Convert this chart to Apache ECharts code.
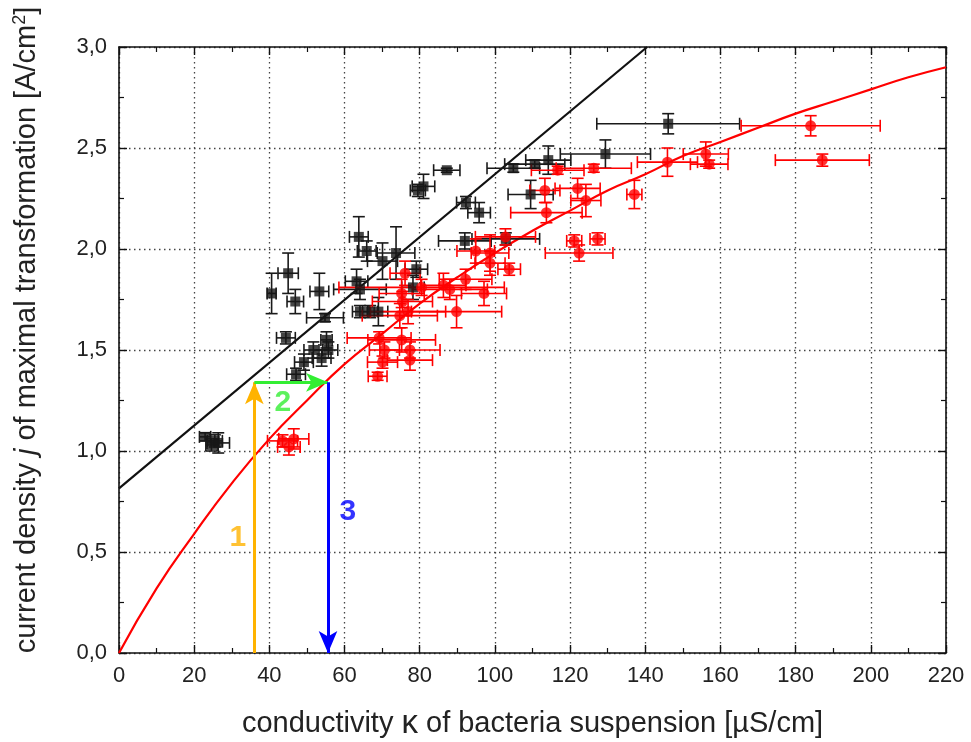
<!DOCTYPE html>
<html>
<head>
<meta charset="utf-8">
<script src="https://cdn.jsdelivr.net/npm/echarts@6/dist/echarts.min.js"></script>
<style>
  html, body { margin: 0; padding: 0; background: #fff; }
  #chart { width: 971px; height: 742px; }
</style>
</head>
<body>
<div id="chart"></div>
<script>
// Reference samples (black squares) with symmetric errors
const blackX    = [22.9, 24.6, 25.5, 26.4, 40.6, 44.4, 45.0, 46.9, 47.1, 49.2, 51.7, 53.3, 53.9, 54.8, 55.2, 55.7,
                   63.2, 63.8, 64.1, 64.1, 65.9, 66.8, 69.0, 70.1, 73.7, 78.2, 79.1, 79.5, 81.0, 87.2, 92.0, 92.3,
                   95.8, 102.9, 104.9, 109.5, 110.6, 114.2, 129.4, 146.1];
const blackY    = [1.07, 1.03, 1.05, 1.04, 1.78, 1.56, 1.88, 1.74, 1.38, 1.44, 1.50, 1.79, 1.46, 1.66, 1.55, 1.50,
                   1.84, 2.06, 1.80, 1.69, 1.99, 1.69, 1.69, 1.94, 1.98, 1.81, 1.90, 2.29, 2.31, 2.39, 2.04, 2.23,
                   2.18, 2.05, 2.40, 2.27, 2.42, 2.44, 2.47, 2.62];
const blackXErr = [1.5, 1.5, 2.0, 3.0, 1.2, 2.5, 2.7, 2.2, 2.5, 2.5, 2.5, 2.5, 2.5, 4.9, 1.5, 2.5,
                   3.0, 2.5, 7.0, 2.0, 2.5, 2.0, 2.5, 4.0, 5.0, 3.0, 3.0, 2.0, 3.0, 3.5, 7.0, 2.5,
                   3.0, 9.0, 7.0, 6.0, 8.0, 6.0, 12.0, 19.0];
const blackYErr = [0.02, 0.03, 0.03, 0.05, 0.10, 0.03, 0.10, 0.06, 0.03, 0.04, 0.04, 0.09, 0.04, 0.02, 0.04, 0.04,
                   0.06, 0.10, 0.05, 0.03, 0.05, 0.03, 0.07, 0.09, 0.13, 0.06, 0.04, 0.03, 0.06, 0.01, 0.04, 0.03,
                   0.05, 0.03, 0.02, 0.07, 0.02, 0.07, 0.07, 0.05];

// Measured samples (red circles) with symmetric errors
const redX    = [43.5, 45.2, 46.5, 68.8, 70.1, 69.2, 70.6, 75.2, 77.4, 77.4, 74.7, 76.9, 75.4, 75.2, 76.1, 80.5,
                 86.3, 88.0, 89.8, 92.2, 94.9, 97.1, 98.7, 98.7, 102.8, 103.8, 113.3, 113.7, 116.7, 121.1, 122.0,
                 122.4, 124.2, 126.3, 127.3, 137.1, 145.9, 156.1, 157.0, 184.0, 187.1];
const redY    = [1.05, 1.02, 1.06, 1.37, 1.44, 1.56, 1.50, 1.55, 1.50, 1.45, 1.67, 1.69, 1.74, 1.78, 1.88, 1.81,
                 1.82, 1.80, 1.69, 1.85, 1.99, 1.78, 1.98, 1.93, 2.06, 1.90, 2.29, 2.18, 2.39, 2.04, 2.30,
                 1.98, 2.24, 2.40, 2.05, 2.27, 2.43, 2.47, 2.42, 2.61, 2.44];
const redXErr = [4.0, 3.0, 4.0, 2.5, 4.0, 8.5, 4.0, 9.0, 8.0, 6.0, 10.0, 10.0, 8.0, 6.0, 4.0, 22.0,
                 6.0, 10.0, 12.0, 7.0, 5.0, 6.0, 5.0, 4.0, 8.0, 3.0, 4.0, 9.5, 7.0, 2.0, 6.0,
                 9.0, 4.0, 10.0, 2.0, 2.0, 8.0, 6.0, 5.0, 18.5, 12.5];
const redYErr = [0.03, 0.04, 0.05, 0.02, 0.03, 0.03, 0.04, 0.06, 0.04, 0.05, 0.06, 0.06, 0.05, 0.07, 0.06, 0.04,
                 0.06, 0.05, 0.08, 0.05, 0.06, 0.06, 0.09, 0.06, 0.04, 0.03, 0.06, 0.05, 0.02, 0.03, 0.05,
                 0.04, 0.08, 0.02, 0.03, 0.07, 0.07, 0.06, 0.02, 0.05, 0.03];

// Saturating fit curve through the measured data
const fitX = [0, 10, 20, 30, 40, 50, 60, 70, 80, 90, 100, 110, 120, 130, 140, 150, 160, 170, 180, 190, 200, 210, 220];
const fitY = [0, 0.32, 0.59, 0.84, 1.06, 1.25, 1.43, 1.58, 1.73, 1.86, 1.98, 2.09, 2.19, 2.29, 2.37, 2.46, 2.53,
              2.60, 2.67, 2.73, 2.79, 2.85, 2.90];

// Straight line through the reference samples
const refLineX = [0, 140.5];
const refLineY = [0.815, 3.0];

// Construction arrows: 1 up, 2 across, 3 down
const kappaStart = 36;
const kappaEnd = 55.6;
const jLevel = 1.34;

const xTicks = { min: 0, max: 220, interval: 20 };
const yTicks = { min: 0, max: 3, interval: 0.5 };

const chart = echarts.init(document.getElementById('chart'), null, { renderer: 'canvas' });

function pairs(xs, ys) { return xs.map((x, i) => [x, ys[i]]); }
function withErr(xs, ys, ex, ey) { return xs.map((x, i) => [x, ys[i], ex[i], ey[i]]); }

function errorBars(color) {
  return function (params, api) {
    const x = api.value(0), y = api.value(1), ex = api.value(2), ey = api.value(3);
    const l = api.coord([x - ex, y]), r = api.coord([x + ex, y]);
    const t = api.coord([x, y + ey]), b = api.coord([x, y - ey]);
    const cap = 6;
    const style = { stroke: color, lineWidth: 1.6, fill: null };
    const line = (x1, y1, x2, y2) => ({ type: 'line', shape: { x1, y1, x2, y2 }, style });
    return {
      type: 'group',
      children: [
        line(l[0], l[1], r[0], r[1]),
        line(l[0], l[1] - cap, l[0], l[1] + cap),
        line(r[0], r[1] - cap, r[0], r[1] + cap),
        line(t[0], t[1], b[0], b[1]),
        line(t[0] - cap, t[1], t[0] + cap, t[1]),
        line(b[0] - cap, b[1], b[0] + cap, b[1])
      ]
    };
  };
}

const tickFont = "'Liberation Sans', Arial, sans-serif";
const titleFont = "'Liberation Sans', Arial, sans-serif";

const baseAxis = {
  axisLine: { show: true, onZero: false, lineStyle: { color: '#111', width: 1.6 } },
  axisTick: { show: true, inside: true, length: 8, lineStyle: { color: '#111', width: 1.4 } },
  minorTick: { show: true, splitNumber: 2, length: 5, lineStyle: { color: '#111', width: 1.2 } },
  splitLine: { show: false },
  minorSplitLine: { show: false }
};

function arrow(from, to, color) {
  return {
    type: 'line', data: [], silent: true, z: 6,
    markLine: {
      silent: true, animation: false,
      symbol: ['none', 'arrow'], symbolSize: [14, 22],
      label: { show: false },
      lineStyle: { color, width: 3, type: 'solid' },
      data: [[{ coord: from }, { coord: to }]]
    }
  };
}

function numberLabel(x, y, text, color) {
  return {
    type: 'scatter', data: [[x, y]], symbolSize: 0, silent: true, z: 7,
    label: {
      show: true, position: 'inside', formatter: text, color,
      fontFamily: titleFont, fontWeight: 'bold', fontSize: 30
    }
  };
}

chart.setOption({
  animation: false,
  backgroundColor: '#fff',
  grid: { left: 119, right: 25, top: 47, bottom: 89, outerBoundsMode: 'none', containLabel: false },
  xAxis: [
    Object.assign({}, baseAxis, {
      type: 'value', position: 'bottom', ...xTicks,
      name: '{t|conductivity }{k|κ}{t| of bacteria suspension [µS/cm]}',
      nameLocation: 'middle', nameGap: 54,
      nameTextStyle: {
        rich: {
          t: { fontFamily: titleFont, fontSize: 29, color: '#222' },
          k: { fontFamily: titleFont, fontSize: 33, color: '#222' }
        }
      },
      axisLabel: { show: true, margin: 12, fontFamily: tickFont, fontSize: 22, color: '#222' },
      splitLine: { show: true, lineStyle: { color: '#444', width: 1.3, type: [1.5, 3.5] } }
    }),
    Object.assign({}, baseAxis, {
      type: 'value', position: 'top', ...xTicks,
      axisLabel: { show: false }
    })
  ],
  yAxis: [
    Object.assign({}, baseAxis, {
      type: 'value', position: 'left', ...yTicks,
      name: '{t|current density }{i|j}{t| of maximal transformation [A/cm}{s|2}{t|]}',
      nameLocation: 'middle', nameGap: 76, nameRotate: 90,
      nameTextStyle: {
        padding: [0, 0, 0, 40],
        rich: {
          t: { fontFamily: titleFont, fontSize: 29, color: '#222' },
          i: { fontFamily: titleFont, fontSize: 29, fontStyle: 'italic', color: '#222' },
          s: { fontFamily: titleFont, fontSize: 18, color: '#222', verticalAlign: 'top', padding: [0, 0, 14, 0] }
        }
      },
      axisLabel: {
        show: true, margin: 12, fontFamily: tickFont, fontSize: 22, color: '#222',
        formatter: v => v.toFixed(1).replace('.', ',')
      },
      splitLine: { show: true, lineStyle: { color: '#444', width: 1.3, type: [1.5, 3.5] } }
    }),
    Object.assign({}, baseAxis, {
      type: 'value', position: 'right', ...yTicks,
      axisLabel: { show: false }
    })
  ],
  series: [
    {
      type: 'line', name: 'reference line', data: pairs(refLineX, refLineY),
      showSymbol: false, clip: true, z: 3,
      lineStyle: { color: '#111', width: 2.2 }
    },
    {
      type: 'line', name: 'fit', data: pairs(fitX, fitY), smooth: true,
      showSymbol: false, clip: true, z: 3,
      lineStyle: { color: '#ff0000', width: 2.2 }
    },
    {
      type: 'custom', name: 'black errors', data: withErr(blackX, blackY, blackXErr, blackYErr),
      renderItem: errorBars('#1a1a1a'), z: 4, clip: true
    },
    {
      type: 'scatter', name: 'black', data: pairs(blackX, blackY),
      symbol: 'rect', symbolSize: 10, z: 5,
      itemStyle: { color: '#161616' }
    },
    {
      type: 'custom', name: 'red errors', data: withErr(redX, redY, redXErr, redYErr),
      renderItem: errorBars('#ff0000'), z: 4, clip: true
    },
    {
      type: 'scatter', name: 'red', data: pairs(redX, redY),
      symbol: 'circle', symbolSize: 11, z: 5,
      itemStyle: { color: '#ff0000' }
    },
    arrow([kappaStart, 0], [kappaStart, jLevel], '#ffb300'),
    arrow([kappaStart, jLevel], [kappaEnd, jLevel], '#33ee33'),
    arrow([kappaEnd, jLevel], [kappaEnd, 0], '#0000ff'),
    numberLabel(31.6, 0.57, '1', '#ffb300'),
    numberLabel(43.6, 1.24, '2', '#33ee33'),
    numberLabel(60.9, 0.70, '3', '#0000ff')
  ]
});
</script>
</body>
</html>
